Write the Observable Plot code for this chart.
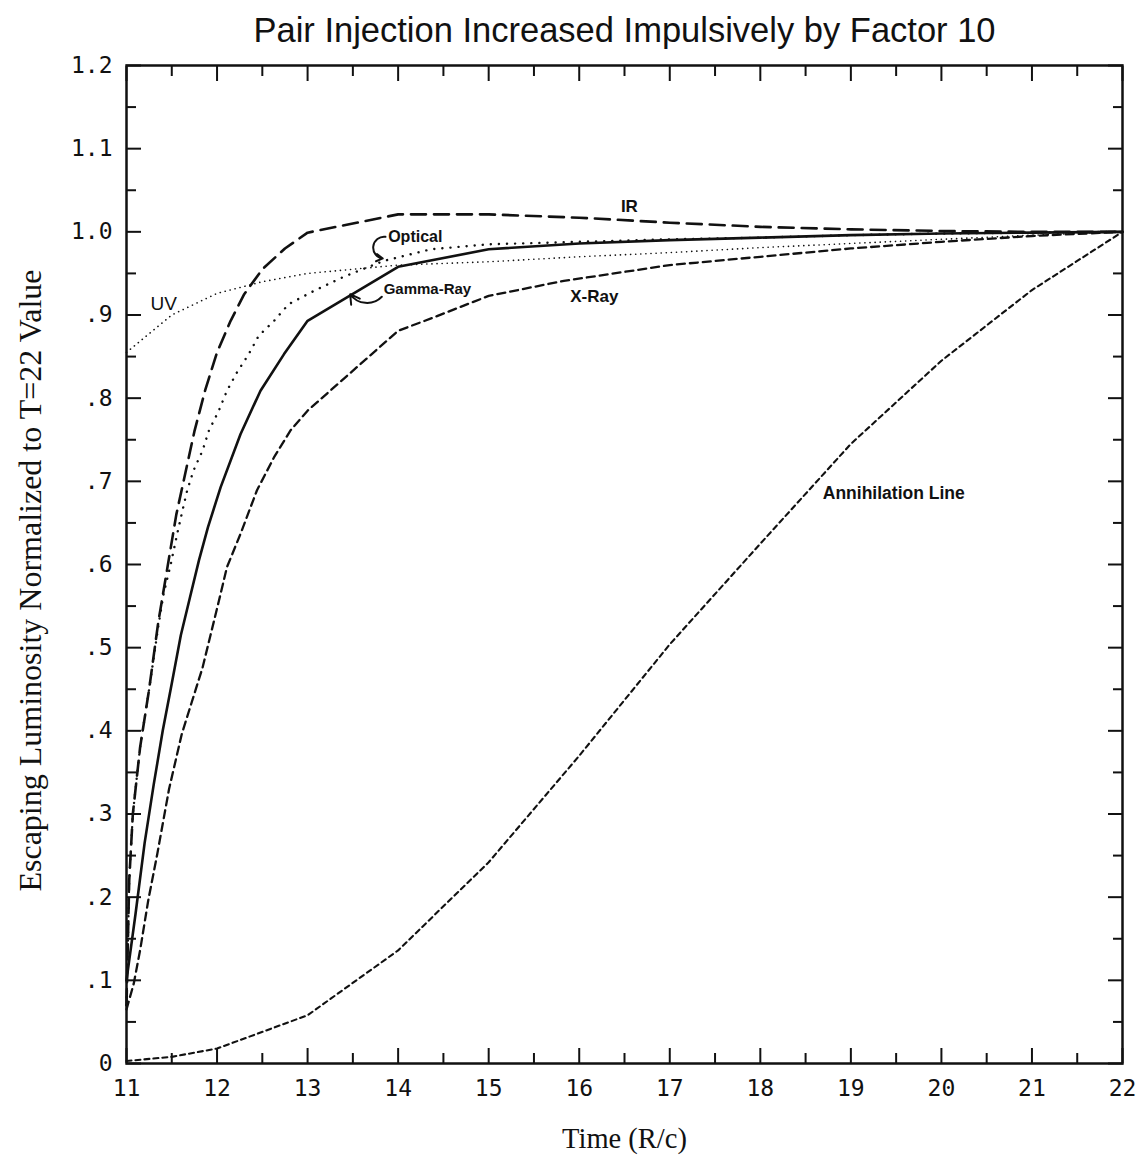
<!DOCTYPE html>
<html>
<head>
<meta charset="utf-8">
<script src="https://cdn.jsdelivr.net/npm/d3@7"></script>
<script src="https://cdn.jsdelivr.net/npm/@observablehq/plot@0.6"></script>
<style>
  html, body { margin: 0; padding: 0; background: #fff; }
  #chart svg { display: block; }
</style>
</head>
<body>
<div id="chart"></div>
<script>
// ---- data: [time (R/c), normalized escaping luminosity] ----
const irSeries = [
  [11, 0.07], [11.03, 0.22], [11.07, 0.30], [11.15, 0.38], [11.25, 0.45], [11.35, 0.53],
  [11.45, 0.595], [11.55, 0.66], [11.65, 0.71], [11.75, 0.76], [11.87, 0.81], [12.0, 0.855],
  [12.15, 0.893], [12.3, 0.925], [12.5, 0.955], [12.75, 0.98], [13, 0.999], [13.5, 1.01],
  [14, 1.021], [15, 1.021], [16, 1.017], [17, 1.011], [18, 1.006], [19, 1.003], [20, 1.001],
  [21, 1.0], [22, 1.0]
];
const opticalSeries = [
  [11, 0.07], [11.03, 0.22], [11.07, 0.30], [11.15, 0.38], [11.25, 0.45], [11.35, 0.525],
  [11.41, 0.565], [11.49, 0.601], [11.56, 0.637], [11.61, 0.661], [11.67, 0.689], [11.74, 0.713],
  [11.84, 0.737], [11.91, 0.761], [12.02, 0.785], [12.11, 0.809], [12.22, 0.831], [12.35, 0.853],
  [12.46, 0.875], [12.63, 0.893], [12.79, 0.913], [13.07, 0.929], [13.4, 0.946], [13.84, 0.965],
  [14.36, 0.979], [15, 0.985], [16, 0.988], [17, 0.991], [18, 0.993], [19, 0.996], [20, 0.998],
  [21, 0.999], [22, 1.0]
];
const uvSeries = [
  [11, 0.855], [11.5, 0.90], [12, 0.926], [12.5, 0.94], [13, 0.95], [14, 0.96], [15, 0.964],
  [16, 0.97], [17, 0.975], [18, 0.981], [19, 0.986], [20, 0.991], [21, 0.996], [22, 1.0]
];
const gammaSeries = [
  [11, 0.10], [11.1, 0.18], [11.2, 0.265], [11.3, 0.335], [11.4, 0.40], [11.5, 0.457],
  [11.6, 0.515], [11.7, 0.56], [11.8, 0.605], [11.9, 0.645], [12.04, 0.693], [12.26, 0.757],
  [12.48, 0.809], [12.74, 0.853], [13, 0.893], [14, 0.958], [15, 0.979], [16, 0.986],
  [17, 0.990], [18, 0.993], [19, 0.996], [20, 0.998], [21, 0.999], [22, 1.0]
];
const xraySeries = [
  [11, 0.065], [11.08, 0.096], [11.15, 0.136], [11.24, 0.196], [11.34, 0.252], [11.47, 0.33],
  [11.61, 0.396], [11.84, 0.476], [12.02, 0.556], [12.11, 0.597], [12.26, 0.637], [12.44, 0.689],
  [12.63, 0.729], [12.81, 0.761], [13, 0.785], [14, 0.881], [14.39, 0.897], [15, 0.923],
  [15.83, 0.941], [17, 0.96], [18, 0.97], [19, 0.98], [20, 0.988], [21, 0.995], [22, 1.0]
];
const annihilationSeries = [
  [11, 0.003], [11.5, 0.008], [12, 0.018], [13, 0.058], [14, 0.136], [15, 0.242], [16, 0.37],
  [17, 0.504], [18, 0.625], [19, 0.745], [20, 0.845], [21, 0.93], [22, 1.0]
];

// ---- ticks ----
const xMajor = [11, 12, 13, 14, 15, 16, 17, 18, 19, 20, 21, 22];
const xMinor = [11.5, 12.5, 13.5, 14.5, 15.5, 16.5, 17.5, 18.5, 19.5, 20.5, 21.5];
const yMajor = [0, 0.1, 0.2, 0.3, 0.4, 0.5, 0.6, 0.7, 0.8, 0.9, 1.0, 1.1, 1.2];
const yMinor = [0.05, 0.15, 0.25, 0.35, 0.45, 0.55, 0.65, 0.75, 0.85, 0.95, 1.05, 1.15];

// ---- annotations ----
const boldLabels = [
  {t: 16.46, v: 1.031, text: "IR", size: 17},
  {t: 13.89, v: 0.994, text: "Optical", size: 16},
  {t: 13.84, v: 0.931, text: "Gamma-Ray", size: 15},
  {t: 15.9, v: 0.922, text: "X-Ray", size: 17},
  {t: 18.69, v: 0.686, text: "Annihilation Line", size: 17.5}
];
const plainLabels = [
  {t: 11.265, v: 0.913, text: "UV", size: 19}
];
const opticalPointer = [{t1: 13.86, v1: 0.994, t2: 13.83, v2: 0.968}];
const gammaPointer = [{t1: 13.82, v1: 0.922, t2: 13.47, v2: 0.925}];

const title = "Pair Injection Increased Impulsively by Factor 10";
const xTitle = "Time (R/c)";
const yTitle = "Escaping Luminosity Normalized to T=22 Value";

const toRows = (arr) => arr.map(([t, v]) => ({t, v}));
const ink = "#111";
const sans = "Liberation Sans, Arial, Helvetica, sans-serif";
const serif = "Liberation Serif, Times New Roman, serif";
const lineBase = {x: "t", y: "v", stroke: ink, curve: "linear"};

const yFmt = (d) => d === 0 ? "0" : (d >= 1 ? d.toFixed(1) : d.toFixed(1).slice(1));

const chart = Plot.plot({
  width: 1142,
  height: 1157,
  marginLeft: 126,
  marginRight: 20,
  marginTop: 65,
  marginBottom: 94,
  x: {domain: [11, 22]},
  y: {domain: [0, 1.2]},
  style: {background: "#fff", color: ink},
  marks: [
    // inward ticks on all four sides
    Plot.axisX(xMajor, {anchor: "bottom", tickSize: -15, strokeWidth: 2, text: null, label: null}),
    Plot.axisX(xMinor, {anchor: "bottom", tickSize: -10, strokeWidth: 2, text: null, label: null}),
    Plot.axisX(xMajor, {anchor: "top", tickSize: -15, strokeWidth: 2, text: null, label: null}),
    Plot.axisX(xMinor, {anchor: "top", tickSize: -10, strokeWidth: 2, text: null, label: null}),
    Plot.axisY(yMajor, {anchor: "left", tickSize: -15, strokeWidth: 2, text: null, label: null}),
    Plot.axisY(yMinor, {anchor: "left", tickSize: -10, strokeWidth: 2, text: null, label: null}),
    Plot.axisY(yMajor, {anchor: "right", tickSize: -15, strokeWidth: 2, text: null, label: null}),
    Plot.axisY(yMinor, {anchor: "right", tickSize: -10, strokeWidth: 2, text: null, label: null}),
    // tick labels
    Plot.axisX(xMajor, {anchor: "bottom", tickSize: 0, tickPadding: 16, label: null,
      fontSize: 23, fontFamily: "DejaVu Sans Mono", fill: ink}),
    Plot.axisY(yMajor, {anchor: "left", tickSize: 0, tickPadding: 14, label: null, tickFormat: yFmt,
      fontSize: 23, fontFamily: "DejaVu Sans Mono", fill: ink}),
    Plot.frame({stroke: ink, strokeWidth: 2.5}),
    // curves
    Plot.line(toRows(uvSeries), {...lineBase, strokeWidth: 1.6, strokeDasharray: "0.1,5", strokeLinecap: "round"}),
    Plot.line(toRows(opticalSeries), {...lineBase, strokeWidth: 2.4, strokeDasharray: "0.1,8", strokeLinecap: "round"}),
    Plot.line(toRows(irSeries), {...lineBase, strokeWidth: 2.6, strokeDasharray: "15,8"}),
    Plot.line(toRows(xraySeries), {...lineBase, strokeWidth: 2.3, strokeDasharray: "8,5"}),
    Plot.line(toRows(annihilationSeries), {...lineBase, strokeWidth: 2.1, strokeDasharray: "5,4"}),
    Plot.line(toRows(gammaSeries), {...lineBase, strokeWidth: 2.6}),
    // labels
    Plot.text(boldLabels, {x: "t", y: "v", text: "text", textAnchor: "start", fill: ink,
      fontSize: "size", fontWeight: "bold", fontFamily: sans}),
    Plot.text(plainLabels, {x: "t", y: "v", text: "text", textAnchor: "start", fill: ink,
      fontSize: "size", fontFamily: sans}),
    Plot.arrow(opticalPointer, {x1: "t1", y1: "v1", x2: "t2", y2: "v2", stroke: ink, strokeWidth: 2,
      bend: -90, headLength: 9}),
    Plot.arrow(gammaPointer, {x1: "t1", y1: "v1", x2: "t2", y2: "v2", stroke: ink, strokeWidth: 2,
      bend: 50, headLength: 9}),
    // titles
    Plot.text([title], {frameAnchor: "top", dy: -35, lineAnchor: "middle", textAnchor: "middle",
      fontSize: 34.5, fill: ink, fontFamily: sans, text: (d) => d}),
    Plot.text([xTitle], {frameAnchor: "bottom", dy: 75, lineAnchor: "middle", textAnchor: "middle",
      fontSize: 28.5, fill: ink, fontFamily: serif, text: (d) => d}),
    Plot.text([yTitle], {frameAnchor: "left", dx: -96, dy: 16, rotate: -90, lineAnchor: "middle",
      textAnchor: "middle", fontSize: 32, fill: ink, fontFamily: serif, text: (d) => d})
  ]
});
document.getElementById("chart").appendChild(chart);
</script>
</body>
</html>
